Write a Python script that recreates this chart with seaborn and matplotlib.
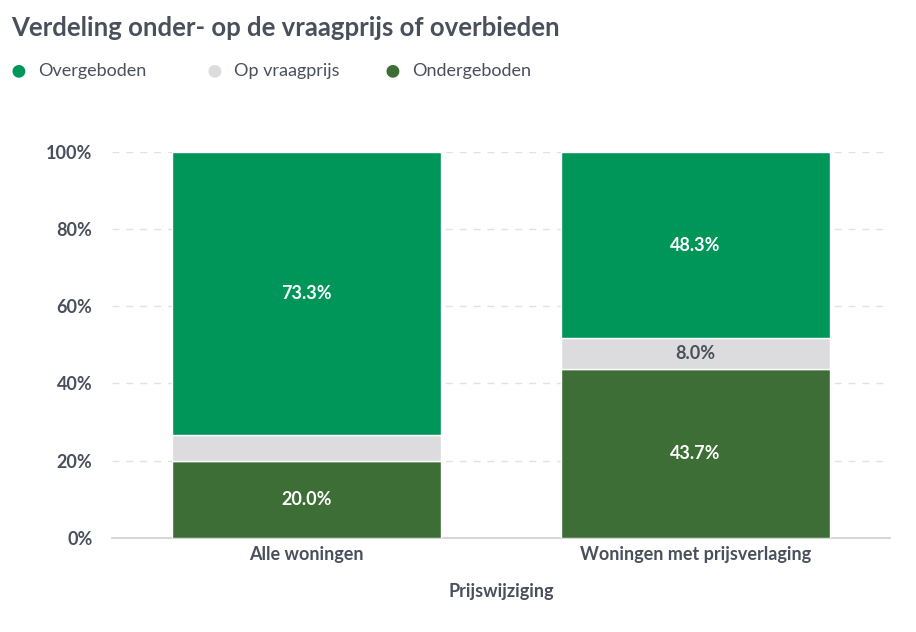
import matplotlib
matplotlib.use("Agg")
import matplotlib.pyplot as plt
import seaborn as sns
import pandas as pd

categories = ["Alle woningen", "Woningen met prijsverlaging"]
ondergeboden = [20.0, 43.7]
op_vraagprijs = [6.7, 8.0]
overgeboden = [73.3, 48.3]
yticks = [0, 20, 40, 60, 80, 100]

sns.set_theme(style="white")
plt.rcParams['font.family'] = ['Lato', 'DejaVu Sans']
txt = "#4a4f5c"

fig = plt.figure(figsize=(9.16, 6.32), dpi=100)
ax = fig.add_axes([0.1223, 0.149, 0.8494, 0.6108])

df = pd.DataFrame({"cat": categories, "under": ondergeboden, "op": op_vraagprijs, "over": overgeboden})
bot2 = [a + b for a, b in zip(ondergeboden, op_vraagprijs)]
sns.barplot(data=df, x="cat", y="under", color="#3d6e35", width=0.69, ax=ax, saturation=1, zorder=3)
sns.barplot(data=df, x="cat", y="op", color="#dcdcde", width=0.69, ax=ax, saturation=1, bottom=ondergeboden, zorder=3)
sns.barplot(data=df, x="cat", y="over", color="#00965a", width=0.69, ax=ax, saturation=1, bottom=bot2, zorder=3)

for i in range(2):
    ax.text(i, ondergeboden[i] / 2, f"{ondergeboden[i]:.1f}%", ha="center", va="center", color="white", fontsize=13, fontweight="bold", zorder=4)
    if op_vraagprijs[i] >= 7:
        ax.text(i, ondergeboden[i] + op_vraagprijs[i] / 2, f"{op_vraagprijs[i]:.1f}%", ha="center", va="center", color=txt, fontsize=13, fontweight="bold", zorder=4)
    ax.text(i, bot2[i] + overgeboden[i] / 2, f"{overgeboden[i]:.1f}%", ha="center", va="center", color="white", fontsize=13, fontweight="bold", zorder=4)

ax.set_xlim(-0.5, 1.5)
ax.set_ylim(0, 100)
ax.set_yticks(yticks)
ax.set_yticklabels([f"{t}%" for t in yticks], fontsize=13, fontweight="bold", color=txt)
ax.tick_params(axis="x", labelsize=13, labelcolor=txt, length=0, pad=6)
ax.tick_params(axis="y", length=0, pad=14)
for l in ax.get_xticklabels():
    l.set_fontweight("bold")
ax.yaxis.grid(True, linestyle=(0, (5, 5)), color="#e2e2e2", lw=1, zorder=0)
for s in ["top", "right", "left"]:
    ax.spines[s].set_visible(False)
ax.spines["bottom"].set_color("#d0d0d0")
ax.set_ylabel("")
ax.set_xlabel("Prijswijziging", fontsize=13, fontweight="bold", color=txt, labelpad=14)

fig.text(0.012, 0.955, "Verdeling onder- op de vraagprijs of overbieden", fontsize=18.5, fontweight="bold", color=txt, va="center")
items = [("Overgeboden", "#00965a"), ("Op vraagprijs", "#dcdcde"), ("Ondergeboden", "#3d6e35")]
xs = [0.012, 0.225, 0.42]
for (lab, c), x in zip(items, xs):
    fig.text(x, 0.888, "●", fontsize=19, color=c, va="center")
    fig.text(x + 0.03, 0.888, lab, fontsize=13, color=txt, va="center")

fig.savefig("out.png", dpi=100)
